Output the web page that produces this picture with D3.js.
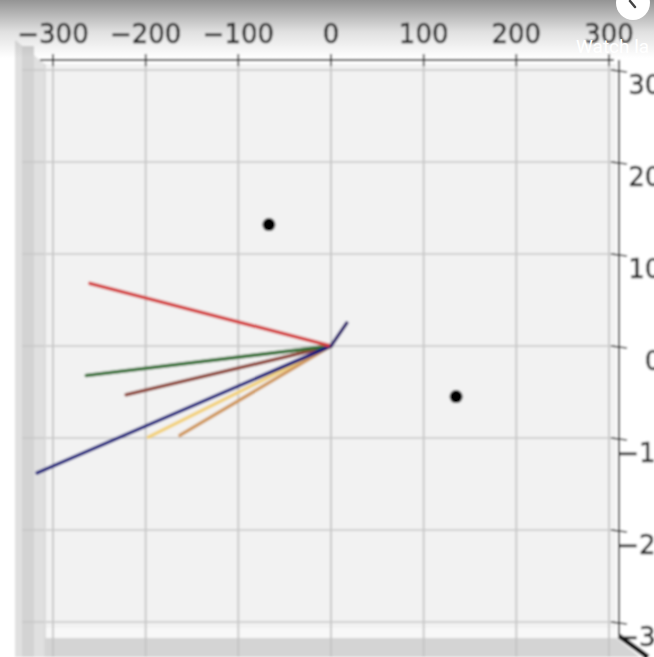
<!DOCTYPE html>
<html>
<head>
<meta charset="utf-8">
<script src="https://cdn.jsdelivr.net/npm/d3@7"></script>
<style>
  html, body { margin: 0; padding: 0; background: #ffffff; }
  svg { display: block; }
</style>
</head>
<body>
<svg id="chart" width="654" height="657"></svg>
<script>
// Axis ticks (top view of a 3D axes: x along the top, y on the right)
const xTicks = [-300, -200, -100, 0, 100, 200, 300];
const yTicks = [300, 200, 100, 0, -100, -200, -300];

// Vectors drawn from the origin: [name, x end, y end, colour]
const vecNames  = ["yellow", "tan", "brown", "green", "navy", "red", "navyUp"];
const vecX      = [-197, -163, -221, -264, -317, -260, 17];
const vecY      = [-99, -97, -53, -32, -138, 68, 25];
const vecColors = ["#f2d27e", "#d09a5e", "#8e4438", "#2f6e2f", "#12127c", "#d43c3c", "#2a1f6e"];

// Scatter points
const ptX = [-67, 135];
const ptY = [132, -55];

const svg = d3.select("#chart");
const W = 654, H = 657;

const defs = svg.append("defs");
defs.append("filter").attr("id", "soft")
  .attr("x", "-5%").attr("y", "-5%").attr("width", "110%").attr("height", "110%")
  .append("feGaussianBlur").attr("stdDeviation", 0.8);
const topFade = defs.append("linearGradient").attr("id", "topFade")
  .attr("x1", 0).attr("y1", 0).attr("x2", 0).attr("y2", 1);
topFade.append("stop").attr("offset", "0%").attr("stop-color", "#000").attr("stop-opacity", 0.42);
topFade.append("stop").attr("offset", "55%").attr("stop-color", "#000").attr("stop-opacity", 0.12);
topFade.append("stop").attr("offset", "100%").attr("stop-color", "#000").attr("stop-opacity", 0);

const x = d3.scaleLinear().domain([-300, 300]).range([53, 609]);
const y = d3.scaleLinear().domain([300, -300]).range([70, 622]);

const g = svg.append("g").attr("filter", "url(#soft)");

// Pane panels
const paneL = 45, paneR = 616, paneT = 64, paneB = 638;
g.append("rect").attr("x", 0).attr("y", 0).attr("width", W).attr("height", H).attr("fill", "#ffffff");
// left wall
g.append("path")
  .attr("d", `M15,40 L${paneL},${paneT} L${paneL},${H} L15,${H} Z`)
  .attr("fill", "#e0e0e0");
g.append("rect").attr("x", 22).attr("y", 46).attr("width", 12).attr("height", H - 46)
  .attr("fill", "#d3d3d3");
// bottom wall
g.append("path")
  .attr("d", `M${paneL},${paneB} L${paneR},${paneB} L${paneR + 24},${H} L${paneL},${H} Z`)
  .attr("fill", "#d4d4d4");
// floor pane
g.append("rect").attr("x", paneL).attr("y", paneT).attr("width", paneR - paneL).attr("height", paneB - paneT)
  .attr("fill", "#f2f2f2");
g.append("rect").attr("x", paneL).attr("y", 628).attr("width", paneR - paneL).attr("height", paneB - 628)
  .attr("fill", "#f8f8f8");

// Grid lines
g.append("g").selectAll("line").data(xTicks).join("line")
  .attr("x1", d => x(d)).attr("x2", d => x(d))
  .attr("y1", paneT).attr("y2", H)
  .attr("stroke", "#c2c2c2").attr("stroke-width", 1.7);
g.append("g").selectAll("line").data(yTicks).join("line")
  .attr("x1", 22).attr("x2", paneR)
  .attr("y1", d => y(d)).attr("y2", d => y(d))
  .attr("stroke", "#c6c6c6").attr("stroke-width", 1.7);
g.append("line").attr("x1", paneL).attr("x2", paneL).attr("y1", paneT).attr("y2", H)
  .attr("stroke", "#d6d6d6").attr("stroke-width", 1.5);

// Top x axis
const xAxisY = 60;
g.append("line").attr("x1", 40).attr("x2", 614).attr("y1", xAxisY).attr("y2", xAxisY)
  .attr("stroke", "#1a1a1a").attr("stroke-width", 1.8);
g.append("g").selectAll("line").data(xTicks).join("line")
  .attr("x1", d => x(d)).attr("x2", d => x(d))
  .attr("y1", xAxisY - 6).attr("y2", xAxisY + 6)
  .attr("stroke", "#1a1a1a").attr("stroke-width", 1.6);
g.append("g").selectAll("text").data(xTicks).join("text")
  .attr("x", d => x(d)).attr("y", 43)
  .attr("text-anchor", "middle")
  .attr("font-family", "DejaVu Sans, sans-serif").attr("font-size", 26)
  .attr("fill", "#222").attr("stroke", "#222").attr("stroke-width", 0.5)
  .text(d => d3.format("d")(d).replace("-", "\u2212"));

// Right y axis (labels centred past the edge, as the 3D projection places them)
const yAxisX = 619;
g.append("line").attr("x1", yAxisX).attr("x2", yAxisX).attr("y1", 60).attr("y2", 636)
  .attr("stroke", "#1a1a1a").attr("stroke-width", 2);
g.append("line").attr("x1", yAxisX).attr("x2", 648).attr("y1", 636).attr("y2", H)
  .attr("stroke", "#111").attr("stroke-width", 5);
g.append("g").selectAll("line").data(yTicks).join("line")
  .attr("x1", yAxisX - 8).attr("x2", yAxisX + 8)
  .attr("y1", d => y(d)).attr("y2", d => y(d) + 2)
  .attr("stroke", "#1a1a1a").attr("stroke-width", 1.6);
g.append("g").selectAll("text").data(yTicks).join("text")
  .attr("x", 653).attr("y", d => y(d) + 24)
  .attr("text-anchor", "middle")
  .attr("font-family", "DejaVu Sans, sans-serif").attr("font-size", 26)
  .attr("fill", "#222").attr("stroke", "#222").attr("stroke-width", 0.5)
  .text(d => d3.format("d")(d).replace("-", "\u2212"));

// Vectors from the origin
const vecs = vecNames.map((n, i) => ({ name: n, x: vecX[i], y: vecY[i], color: vecColors[i] }));
g.append("g").selectAll("line").data(vecs).join("line")
  .attr("x1", x(0)).attr("y1", y(0))
  .attr("x2", d => x(d.x)).attr("y2", d => y(d.y))
  .attr("stroke", d => d.color).attr("stroke-width", 3.6)
  .attr("stroke-linecap", "round");

// Points
g.append("g").selectAll("circle").data(ptX.map((v, i) => [v, ptY[i]])).join("circle")
  .attr("cx", d => x(d[0])).attr("cy", d => y(d[1])).attr("r", 6.5)
  .attr("fill", "#000");

// Top shading band with overlay caption
svg.append("rect").attr("x", 0).attr("y", 0).attr("width", W).attr("height", 58)
  .attr("fill", "url(#topFade)");
svg.append("text").attr("x", 576).attr("y", 53)
  .attr("font-family", "Roboto, sans-serif").attr("font-size", 19)
  .attr("fill", "#ffffff").text("Watch la");
const clock = svg.append("g").attr("transform", "translate(633,3)");
clock.append("circle").attr("r", 17).attr("fill", "#ffffff");
clock.append("path").attr("d", "M-3,-2 L2,4").attr("stroke", "#444").attr("stroke-width", 2.5)
  .attr("stroke-linecap", "round");
</script>
</body>
</html>
